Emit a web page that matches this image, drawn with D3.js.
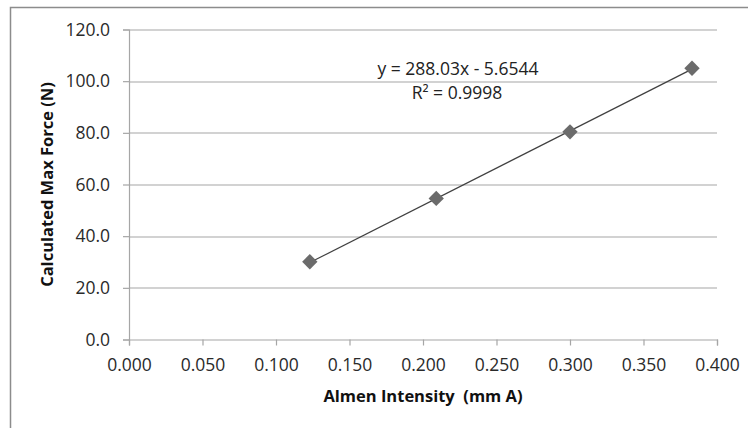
<!DOCTYPE html>
<html>
<head>
  <script src="https://d3js.org/d3.v7.min.js"></script>
  <style>
    body { margin: 0; background: #fff; }
    svg { display: block; font-family: "Open Sans", sans-serif; }
    text { white-space: pre; }
  </style>
</head>
<body>
  <script>
    // measured data points
    const intensity = [0.123, 0.209, 0.300, 0.383];
    const maxForce = [30.1, 54.6, 80.4, 105.0];
    const xTicks = [0, 0.05, 0.1, 0.15, 0.2, 0.25, 0.3, 0.35, 0.4];
    const yTicks = [0, 20, 40, 60, 80, 100, 120];
    const slope = 288.03, intercept = -5.6544;
    const eqLabel = "y = 288.03x - 5.6544";
    const r2Label = "R² = 0.9998";

    const W = 748, H = 428;
    const margin = { top: 29.5, right: 31, bottom: 88.5, left: 129 };
    const width = W - margin.left - margin.right;
    const height = H - margin.top - margin.bottom;
    const font = "Open Sans, sans-serif";

    const svg = d3.select("body").append("svg")
      .attr("width", W).attr("height", H);

    // chart frame (only top and left edges visible)
    svg.append("path")
      .attr("d", `M10.5,${H} V7.5 H${W}`)
      .attr("fill", "none").attr("stroke", "#8c8c8c").attr("stroke-width", 1.5);

    const g = svg.append("g")
      .attr("transform", `translate(${margin.left},${margin.top})`);

    const x = d3.scaleLinear().domain([0, 0.4]).range([0, width]);
    const y = d3.scaleLinear().domain([0, 120]).range([height, 0]);

    // gridlines
    g.selectAll(".grid").data(yTicks.slice(1)).enter().append("line")
      .attr("x1", 0).attr("x2", width)
      .attr("y1", d => Math.round(y(d)) + 0.5).attr("y2", d => Math.round(y(d)) + 0.5)
      .attr("stroke", "#a6a6a6").attr("stroke-width", 1.2);

    // y axis
    const yAxis = g.append("g")
      .call(d3.axisLeft(y).tickValues(yTicks).tickFormat(d3.format(".1f")).tickSize(6).tickPadding(13));
    yAxis.select(".domain").attr("stroke", "#a6a6a6").attr("stroke-width", 1.2);
    yAxis.selectAll(".tick line").attr("stroke", "#a6a6a6").attr("stroke-width", 1.2);
    yAxis.selectAll("text").attr("font-size", 17.5).attr("fill", "#2a2a2a")
      .attr("font-family", font);

    // x axis
    const xAxis = g.append("g")
      .attr("transform", `translate(0,${height})`)
      .call(d3.axisBottom(x).tickValues(xTicks).tickFormat(d3.format(".3f")).tickSize(6).tickPadding(13));
    xAxis.select(".domain").attr("stroke", "#a6a6a6").attr("stroke-width", 1.2);
    xAxis.selectAll(".tick line").attr("stroke", "#a6a6a6").attr("stroke-width", 1.2);
    xAxis.selectAll("text").attr("font-size", 17.5).attr("fill", "#2a2a2a")
      .attr("font-family", font);

    // axis titles
    g.append("text")
      .attr("x", 423 - margin.left).attr("y", height + 62)
      .attr("text-anchor", "middle").attr("font-size", 16.5).attr("font-weight", "bold")
      .attr("fill", "#111")
      .text("Almen Intensity  (mm A)");

    g.append("text")
      .attr("transform", `translate(${53 - margin.left},${height / 2}) rotate(-90)`)
      .attr("text-anchor", "middle").attr("font-size", 16.5).attr("font-weight", "bold")
      .attr("fill", "#111")
      .text("Calculated Max Force (N)");

    // trendline across data range
    const xMin = d3.min(intensity), xMax = d3.max(intensity);
    g.append("line")
      .attr("x1", x(xMin)).attr("y1", y(slope * xMin + intercept))
      .attr("x2", x(xMax)).attr("y2", y(slope * xMax + intercept))
      .attr("stroke", "#404040").attr("stroke-width", 1.2);

    // diamond markers
    const pts = intensity.map((v, i) => ({ x: v, y: maxForce[i] }));
    g.selectAll(".pt").data(pts).enter().append("path")
      .attr("d", d3.symbol().type(d3.symbolDiamond2).size(150))
      .attr("transform", d => `translate(${x(d.x)},${y(d.y)})`)
      .attr("fill", "#6b6b6b");

    // equation labels
    g.append("text")
      .attr("x", 458 - margin.left).attr("y", 75 - margin.top)
      .attr("text-anchor", "middle").attr("font-size", 17.5).attr("fill", "#222")
      .text(eqLabel);
    g.append("text")
      .attr("x", 457 - margin.left).attr("y", 99 - margin.top)
      .attr("text-anchor", "middle").attr("font-size", 17.5).attr("fill", "#222")
      .text(r2Label);
  </script>
</body>
</html>
